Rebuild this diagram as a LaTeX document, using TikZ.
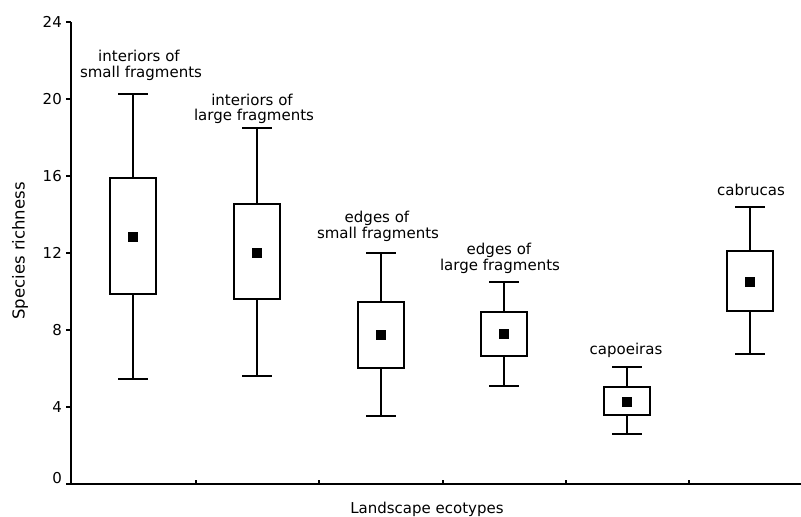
\documentclass[tikz,border=0pt]{standalone}
\usepackage{fontspec}
\setmainfont{DejaVu Sans}
\begin{document}
\begin{tikzpicture}[x=1pt,y=-1pt,
  axisline/.style={line width=1.4pt},
  wh/.style={line width=1.5pt},
  bx/.style={line width=1.6pt,fill=white},
  lbl/.style={anchor=base,inner sep=0pt,font=\fontsize{15}{16}\selectfont},
  ticklbl/.style={anchor=east,inner sep=0pt,font=\fontsize{15}{16}\selectfont},
  meanmark/.style={fill=black}]
\useasboundingbox (0,0) rectangle (801,517);
\newcommand\bxplot[6]{%
  \draw[wh] (#1,#2) -- (#1,#3);
  \draw[wh] (#1,#4) -- (#1,#5);
  \draw[wh] (#1-15,#2) -- (#1+15,#2);
  \draw[wh] (#1-15,#5) -- (#1+15,#5);
  \draw[bx] (#1-23,#3) rectangle (#1+23,#4);
  \fill[meanmark] (#1-5,#6-5) rectangle (#1+5,#6+5);
}
% axes
\coordinate (o) at (71,484);
\coordinate (ytop) at (71,22);
\coordinate (xend) at (801,484);
\draw[axisline] (ytop) -- (o) -- (xend);
% y ticks
\foreach \v/\yy in {0/484,4/407,8/330,12/253,16/176,20/99,24/22}{
  \draw[axisline] (66,\yy) -- (71,\yy);
}
\foreach \v/\yy in {4/407,8/330,12/253,16/176,20/99,24/22}{
  \node[ticklbl] (t\v) at (62,\yy) {\v};
}
\node[ticklbl] (t0) at (62,478) {0};
% x ticks
\foreach \xx in {196,319,443,566,689}{
  \draw[axisline] (\xx,484) -- (\xx,480);
}
% axis titles
\node[rotate=90,inner sep=0pt,font=\fontsize{16.5}{18}\selectfont] (ylab) at (20,251) {Species richness};
\node[lbl] (xlab) at (427,513) {Landscape ecotypes};
% box plots
\bxplot{133}{94}{178}{294}{379}{237}
\bxplot{257}{128}{204}{299}{376}{253}
\bxplot{381}{253}{302}{368}{416}{335}
\bxplot{504}{282}{312}{356}{386}{334}
\bxplot{627}{367}{387}{415}{434}{402}
\bxplot{750}{207}{251}{311}{354}{282}
% labels
\node[lbl] (l1a) at (139,61) {interiors of};
\node[lbl] (l1b) at (141,77) {small fragments};
\node[lbl] (l2a) at (252,105) {interiors of};
\node[lbl] (l2b) at (254,120) {large fragments};
\node[lbl] (l3a) at (377,222) {edges of};
\node[lbl] (l3b) at (378,238) {small fragments};
\node[lbl] (l4a) at (499,254) {edges of};
\node[lbl] (l4b) at (500,270) {large fragments};
\node[lbl] (l5) at (626,354) {capoeiras};
\node[lbl] (l6) at (751,195) {cabrucas};
\end{tikzpicture}
\end{document}
